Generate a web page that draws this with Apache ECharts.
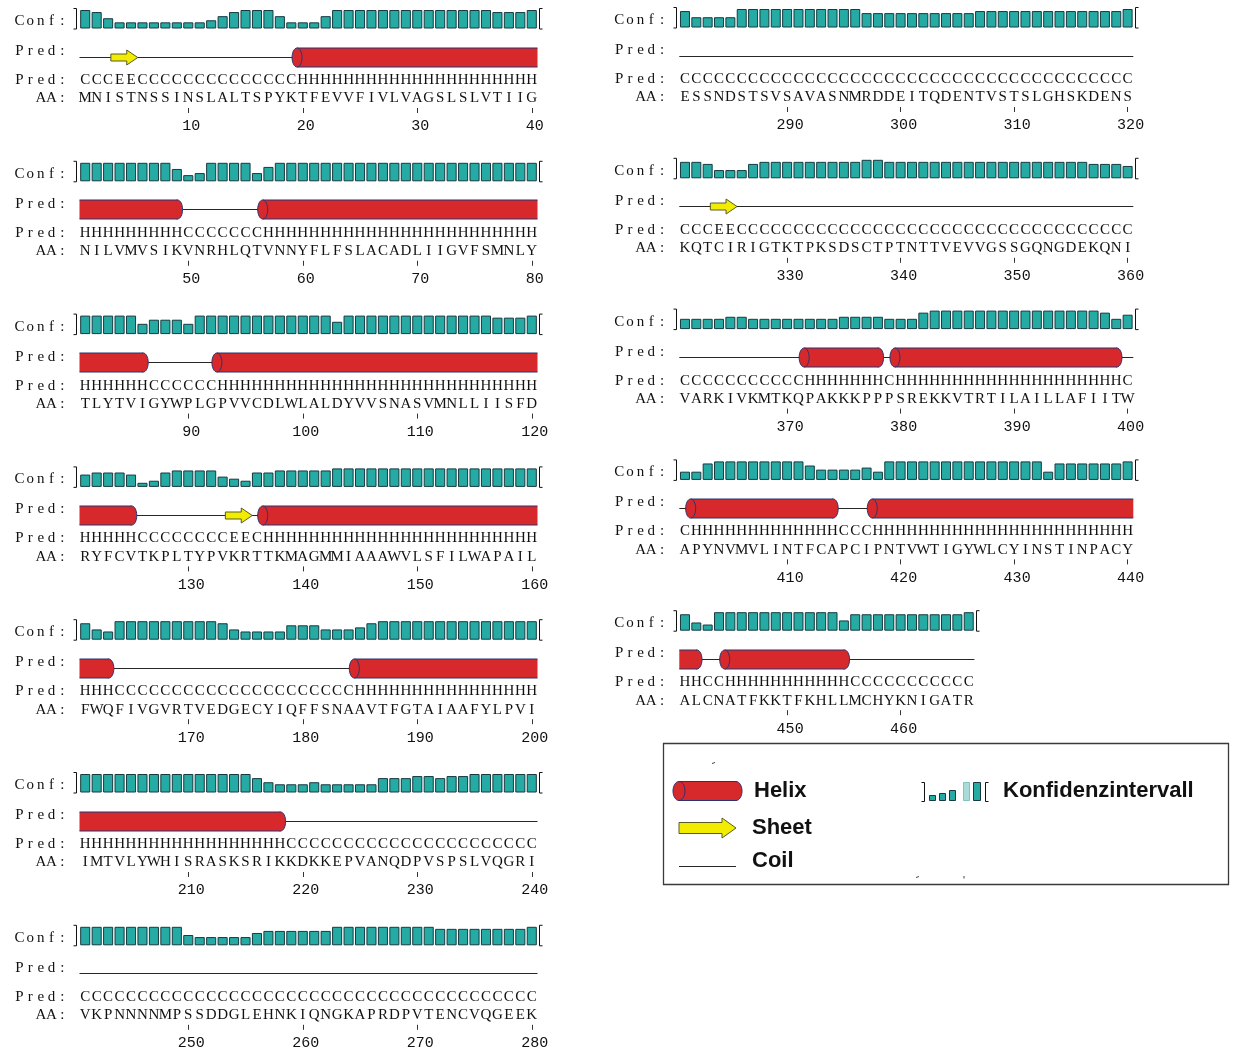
<!DOCTYPE html>
<html>
<head>
<meta charset="utf-8">
<title>PSIPRED Sekundärstrukturvorhersage</title>
<script src="https://cdn.jsdelivr.net/npm/echarts@6/dist/echarts.min.js"></script>
<style>
html, body { margin: 0; padding: 0; background: #ffffff; }
#chart { width: 1234px; height: 1052px; }
</style>
</head>
<body>
<div id="chart"></div>
<script>
// First residue number of each row
const blockFirstResidue = [1, 41, 81, 121, 161, 201, 241, 281, 321, 361, 401, 441];

// Amino-acid sequence, one string per row
const aminoAcids = [
  'MNISTNSSINSLALTSPYKTFEVVFIVLVAGSLSLVTIIG',
  'NILVMVSIKVNRHLQTVNNYFLFSLACADLIIGVFSMNLY',
  'TLYTVIGYWPLGPVVCDLWLALDYVVSNASVMNLLIISFD',
  'RYFCVTKPLTYPVKRTTKMAGMMIAAAWVLSFILWAPAIL',
  'FWQFIVGVRTVEDGECYIQFFSNAAVTFGTAIAAFYLPVI',
  'IMTVLYWHISRASKSRIKKDKKEPVANQDPVSPSLVQGRI',
  'VKPNNNNMPSSDDGLEHNKIQNGKAPRDPVTENCVQGEEK',
  'ESSNDSTSVSAVASNMRDDEITQDENTVSTSLGHSKDENS',
  'KQTCIRIGTKTPKSDSCTPTNTTVEVVGSSGQNGDEKQNI',
  'VARKIVKMTKQPAKKKPPPSREKKVTRTILAILLAFIITW',
  'APYNVMVLINTFCAPCIPNTVWTIGYWLCYINSTINPACY',
  'ALCNATFKKTFKHLLMCHYKNIGATR'
];

// Predicted secondary structure per residue (H = helix, E = strand, C = coil)
const predictedStructure = [
  'CCCEECCCCCCCCCCCCCCHHHHHHHHHHHHHHHHHHHHH',
  'HHHHHHHHHCCCCCCCHHHHHHHHHHHHHHHHHHHHHHHH',
  'HHHHHHCCCCCCHHHHHHHHHHHHHHHHHHHHHHHHHHHH',
  'HHHHHCCCCCCCCEECHHHHHHHHHHHHHHHHHHHHHHHH',
  'HHHCCCCCCCCCCCCCCCCCCCCCHHHHHHHHHHHHHHHH',
  'HHHHHHHHHHHHHHHHHHCCCCCCCCCCCCCCCCCCCCCC',
  'CCCCCCCCCCCCCCCCCCCCCCCCCCCCCCCCCCCCCCCC',
  'CCCCCCCCCCCCCCCCCCCCCCCCCCCCCCCCCCCCCCCC',
  'CCCEECCCCCCCCCCCCCCCCCCCCCCCCCCCCCCCCCCC',
  'CCCCCCCCCCCHHHHHHHCHHHHHHHHHHHHHHHHHHHHC',
  'CHHHHHHHHHHHHHCCCHHHHHHHHHHHHHHHHHHHHHHH',
  'HHCCHHHHHHHHHHHCCCCCCCCCCC'
];

// Confidence of the prediction per residue (0 = low, 9 = high)
const confidence = [
  [9,8,5,3,3,3,3,3,3,3,3,4,6,8,9,9,9,6,3,3,3,6,9,9,9,9,9,9,9,9,9,9,9,9,9,9,8,8,8,9],
  [9,9,9,9,9,9,9,9,6,3,4,9,9,9,9,4,7,9,9,9,9,9,9,9,9,9,9,9,9,9,9,9,9,9,9,9,9,9,9,9],
  [9,9,9,9,9,5,7,7,7,5,9,9,9,9,9,9,9,9,9,9,9,9,6,9,9,9,9,9,9,9,9,9,9,9,9,9,8,8,8,9],
  [6,7,7,7,6,2,3,7,8,8,8,8,5,4,3,7,7,8,8,8,8,8,9,9,9,9,9,9,9,9,9,9,9,9,9,9,9,9,9,9],
  [8,5,4,9,9,9,9,9,9,9,9,9,8,5,4,4,4,4,7,7,7,5,5,5,6,8,9,9,9,9,9,9,9,9,9,9,9,9,9,9],
  [9,9,9,9,9,9,9,9,9,9,9,9,9,9,9,7,5,4,4,4,5,4,4,4,4,4,7,7,7,8,8,7,8,8,9,9,9,9,9,9],
  [9,9,9,9,9,9,9,9,9,5,4,4,4,4,4,6,7,7,7,7,7,7,9,9,9,9,9,9,9,9,9,8,8,8,8,8,8,8,8,9],
  [8,5,5,5,5,9,9,9,9,9,9,9,9,9,9,9,7,7,7,7,7,7,7,7,7,7,8,8,8,8,8,8,8,8,8,8,8,8,8,9],
  [8,8,7,4,4,4,7,8,8,8,8,8,8,8,8,8,9,9,8,8,8,8,8,8,8,8,8,8,8,8,8,8,8,8,8,8,7,7,7,6],
  [5,5,5,5,6,6,5,5,5,5,5,5,5,5,6,6,6,6,5,5,5,8,9,9,9,9,9,9,9,9,9,9,9,9,9,9,9,8,5,7],
  [4,4,8,9,9,9,9,9,9,9,9,7,5,5,5,5,6,4,9,9,9,9,9,9,9,9,9,9,9,9,9,9,4,8,8,8,8,8,8,9],
  [8,4,3,9,9,9,9,9,9,9,9,9,9,9,5,8,8,8,8,8,8,8,8,8,8,9]
];

// ---- appearance ----
const FONT_SEQ = '15px "Liberation Serif", "DejaVu Serif", serif';
const FONT_LEGEND = 'bold 22px "Liberation Sans", Arial, sans-serif';
const COLORS = {
  text: '#111111',
  conf: '#26aba4', confEdge: '#163a40', confPale: '#a9dcd8',
  helix: '#d7282b', helixEdge: '#2b3371',
  sheet: '#f2ec00', sheetEdge: '#5a5a22',
  coil: '#262626', frame: '#3a3a3a'
};

// two columns of rows; each row is one block of residues
const COLUMNS = [
  { left: 79.5, step: 11.45, top: 0, pitch: 152.8 },
  { left: 679.3, step: 11.35, top: -1, pitch: 150.8 }
];
// vertical offsets (px) inside a row
const ROW = { confTop: 10, confHeight: 18.5, confLabel: 21, predLabel: 51, predLine: 56.5, predText: 80, aa: 98.5, axis: 108 };
const HELIX_HALF = 9.5, CAP_RX = 5;
const LABEL_STEP = 10.7;

function blockPlacement(b) {
  const colIdx = b < 7 ? 0 : 1;
  const row = b < 7 ? b : b - 7;
  const col = COLUMNS[colIdx];
  return { left: col.left, top: col.top + row * col.pitch, width: aminoAcids[b].length * col.step };
}

function textEl(ch, x, y, font) {
  return {
    type: 'text',
    style: {
      text: ch, x: x, y: y, font: font || FONT_SEQ, fill: COLORS.text,
      align: 'center', verticalAlign: 'middle', textAlign: 'center', textVerticalAlign: 'middle'
    }
  };
}

// split a row's structure string into runs of equal state
function structureSegments(b) {
  const ss = predictedStructure[b];
  const prevChar = b > 0 ? predictedStructure[b - 1].slice(-1) : 'C';
  const nextChar = b < predictedStructure.length - 1 ? predictedStructure[b + 1][0] : 'C';
  const segs = [];
  let s = 0;
  for (let i = 1; i <= ss.length; i++) {
    if (i === ss.length || ss[i] !== ss[s]) {
      const type = ss[s];
      const before = s === 0 ? prevChar : ss[s - 1];
      const after = i === ss.length ? nextChar : ss[i];
      segs.push({ start: s, end: i - 1, type: type, capStart: before !== type, capEnd: after !== type });
      s = i;
    }
  }
  const order = { C: 0, E: 1, H: 2 };
  return segs.sort(function (a, c) { return order[a.type] - order[c.type]; });
}

function renderRowLabels(api, n) {
  const band = api.size([1, 0])[0];
  const firstX = api.coord([0, 0])[0];
  const lastX = api.coord([n - 1, 0])[0];
  const leftEdge = firstX - band / 2, rightEdge = lastX + band / 2;
  const children = [];
  const colonX = firstX - 23;
  [['Conf:', ROW.confLabel], ['Pred:', ROW.predLabel], ['Pred:', ROW.predText], ['AA:', ROW.aa]].forEach(function (item) {
    const t = item[0];
    const y = api.coord([0, item[1]])[1];
    t.split('').forEach(function (ch, k) {
      children.push(textEl(ch, colonX - (t.length - 1 - k) * LABEL_STEP, y));
    });
  });
  const yt = api.coord([0, ROW.confTop - 1.5])[1];
  const yb = api.coord([0, ROW.confTop + ROW.confHeight + 0.5])[1];
  const bl = Math.round(leftEdge - 3.5) + 0.5, br = Math.round(rightEdge + 1.5) + 0.5;
  children.push({ type: 'polyline', shape: { points: [[bl - 3, yt], [bl, yt], [bl, yb], [bl - 3, yb]] },
    style: { fill: 'none', stroke: COLORS.text, lineWidth: 1 } });
  children.push({ type: 'polyline', shape: { points: [[br + 3, yt], [br, yt], [br, yb], [br + 3, yb]] },
    style: { fill: 'none', stroke: COLORS.text, lineWidth: 1 } });
  return { type: 'group', children: children };
}

// cylinder built from basic shapes (flat or rounded right end, optional front face on the left)
function helixShapes(x0, x1, yc, capStart, capEnd, rx) {
  const top = yc - HELIX_HALF, bot = yc + HELIX_HALF;
  const bodyEnd = capEnd ? x1 - rx : x1;
  const out = [];
  if (capEnd) {
    out.push({ type: 'ellipse', shape: { cx: bodyEnd, cy: yc, rx: rx, ry: HELIX_HALF },
      style: { fill: COLORS.helix, stroke: COLORS.helixEdge, lineWidth: 1 } });
  }
  out.push({ type: 'rect', shape: { x: x0, y: top, width: bodyEnd - x0, height: bot - top },
    style: { fill: COLORS.helix, stroke: null } });
  out.push({ type: 'line', shape: { x1: x0, y1: top, x2: bodyEnd, y2: top }, style: { stroke: COLORS.helixEdge, lineWidth: 1 } });
  out.push({ type: 'line', shape: { x1: x0, y1: bot, x2: bodyEnd, y2: bot }, style: { stroke: COLORS.helixEdge, lineWidth: 1 } });
  if (capStart) {
    out.push({ type: 'ellipse', shape: { cx: x0, cy: yc, rx: rx, ry: HELIX_HALF },
      style: { fill: COLORS.helix, stroke: COLORS.helixEdge, lineWidth: 1 } });
  }
  return out;
}

function arrowShape(x0, x1, yc, shaft, head, headLen) {
  return {
    type: 'polygon',
    shape: { points: [[x0, yc - shaft], [x1 - headLen, yc - shaft], [x1 - headLen, yc - head], [x1, yc],
      [x1 - headLen, yc + head], [x1 - headLen, yc + shaft], [x0, yc + shaft]] },
    style: { fill: COLORS.sheet, stroke: COLORS.sheetEdge, lineWidth: 1 }
  };
}

function renderSegment(s, api) {
  const band = api.size([1, 0])[0];
  const x0 = api.coord([s.start, 0])[0] - band / 2;
  const x1 = api.coord([s.end, 0])[0] + band / 2;
  const yc = Math.round(api.coord([0, ROW.predLine])[1]) + 0.5;
  if (s.type === 'C') {
    return { type: 'line', shape: { x1: x0, y1: yc, x2: x1, y2: yc }, style: { stroke: COLORS.coil, lineWidth: 1 } };
  }
  if (s.type === 'E') {
    return { type: 'group', children: [
      { type: 'line', shape: { x1: x0, y1: yc, x2: x1, y2: yc }, style: { stroke: COLORS.coil, lineWidth: 1 } },
      arrowShape(x0 - 3, x1 + 1, yc, 3.5, 7.5, 11)
    ] };
  }
  return { type: 'group', children: helixShapes(x0, x1, yc, s.capStart, s.capEnd, CAP_RX) };
}

function renderResidue(b, i, api) {
  const x = api.coord([i, 0])[0];
  return { type: 'group', children: [
    textEl(predictedStructure[b][i], x, api.coord([0, ROW.predText])[1]),
    textEl(aminoAcids[b][i], x, api.coord([0, ROW.aa])[1])
  ] };
}

const tickEvery10 = function (idx, value) { return Number(value) % 10 === 0; };

const grid = [], xAxis = [], yAxis = [], series = [];
aminoAcids.forEach(function (seq, b) {
  const p = blockPlacement(b);
  const numbers = seq.split('').map(function (_, i) { return String(blockFirstResidue[b] + i); });

  // confidence bars
  const gConf = grid.length;
  grid.push({ left: p.left, top: p.top + ROW.confTop, width: p.width, height: ROW.confHeight, outerBoundsMode: 'none' });
  xAxis.push({ type: 'category', gridIndex: gConf, data: numbers, show: false });
  yAxis.push({ type: 'value', gridIndex: gConf, min: 0, max: 9, show: false });
  series.push({
    type: 'bar', xAxisIndex: gConf, yAxisIndex: gConf, data: confidence[b],
    barCategoryGap: '12%', silent: true,
    itemStyle: { color: COLORS.conf, borderColor: COLORS.confEdge, borderWidth: 1 }
  });

  // structure diagram, letters and residue numbers
  const gMain = grid.length;
  grid.push({ left: p.left, top: p.top, width: p.width, height: ROW.axis, outerBoundsMode: 'none' });
  xAxis.push({
    type: 'category', gridIndex: gMain, data: numbers, position: 'bottom',
    axisLine: { show: false, onZero: false }, splitLine: { show: false },
    axisTick: { show: true, alignWithLabel: true, interval: tickEvery10, length: 5, lineStyle: { color: '#333', width: 1 } },
    axisLabel: { show: true, interval: tickEvery10, margin: 11, fontFamily: '"Liberation Mono", monospace', fontSize: 15, color: COLORS.text, padding: [0, 0, 0, 6] }
  });
  yAxis.push({ type: 'value', gridIndex: gMain, min: 0, max: ROW.axis, inverse: true, show: false });

  series.push({
    type: 'custom', xAxisIndex: gMain, yAxisIndex: gMain, clip: false, silent: true,
    data: [[0, 0]],
    renderItem: function (params, api) { return renderRowLabels(api, seq.length); }
  });

  const segs = structureSegments(b);
  series.push({
    type: 'custom', xAxisIndex: gMain, yAxisIndex: gMain, clip: false, silent: true,
    data: segs.map(function (s) { return [s.start, 0]; }),
    renderItem: function (params, api) { return renderSegment(segs[params.dataIndex], api); }
  });

  series.push({
    type: 'custom', xAxisIndex: gMain, yAxisIndex: gMain, clip: false, silent: true,
    data: seq.split('').map(function (_, i) { return [i, 0]; }),
    renderItem: function (params, api) { return renderResidue(b, params.dataIndex, api); }
  });
});

// legend box
function legendText(t, x, y) {
  return { type: 'text', x: x, y: y, silent: true, z: 2,
    style: { text: t, font: FONT_LEGEND, fill: '#111', align: 'left', verticalAlign: 'middle', textAlign: 'left', textVerticalAlign: 'middle' } };
}
function onTop(list) { return list.map(function (e) { e.z = 2; return e; }); }
const legendConfBars = [[929.5, 5], [939.5, 7], [949.5, 10]].map(function (d) {
  return { type: 'rect', shape: { x: d[0], y: 800.5 - d[1], width: 6, height: d[1] },
    style: { fill: COLORS.conf, stroke: COLORS.confEdge, lineWidth: 1 } };
});
const graphic = [
  { type: 'rect', shape: { x: 663.5, y: 743.5, width: 565, height: 141 }, style: { fill: 'none', stroke: COLORS.frame, lineWidth: 1.3 }, z: 1 }
].concat(onTop(helixShapes(679, 742, 791, true, true, 6)), [
  legendText('Helix', 754, 791),
  Object.assign(arrowShape(679, 736, 828, 5.5, 10, 14), { z: 2 }),
  legendText('Sheet', 752, 828),
  { type: 'line', z: 2, shape: { x1: 679, y1: 866.5, x2: 736, y2: 866.5 }, style: { stroke: COLORS.coil, lineWidth: 1.2 } },
  legendText('Coil', 752, 861)
], onTop(legendConfBars.concat([
  { type: 'polyline', shape: { points: [[921.5, 782.5], [924.5, 782.5], [924.5, 801.5], [921.5, 801.5]] }, style: { fill: 'none', stroke: COLORS.text, lineWidth: 1 } },
  { type: 'rect', shape: { x: 963.5, y: 782.5, width: 6, height: 18 }, style: { fill: COLORS.confPale, stroke: '#7fc4bf', lineWidth: 1 } },
  { type: 'rect', shape: { x: 973.5, y: 782.5, width: 7, height: 18 }, style: { fill: COLORS.conf, stroke: COLORS.confEdge, lineWidth: 1 } },
  { type: 'polyline', shape: { points: [[988.5, 782.5], [985.5, 782.5], [985.5, 801.5], [988.5, 801.5]] }, style: { fill: 'none', stroke: COLORS.text, lineWidth: 1 } }
])), [
  legendText('Konfidenzintervall', 1003, 791),
  { type: 'line', z: 2, shape: { x1: 712, y1: 763.5, x2: 715, y2: 762.5 }, style: { stroke: '#444', lineWidth: 1 } },
  { type: 'line', z: 2, shape: { x1: 916, y1: 877.5, x2: 919, y2: 876.5 }, style: { stroke: '#444', lineWidth: 1 } },
  { type: 'line', z: 2, shape: { x1: 964, y1: 876, x2: 964, y2: 878.5 }, style: { stroke: '#444', lineWidth: 1 } }
]);

const chart = echarts.init(document.getElementById('chart'), null, { renderer: 'canvas' });
chart.setOption({
  backgroundColor: '#ffffff',
  animation: false,
  tooltip: { show: false },
  grid: grid,
  xAxis: xAxis,
  yAxis: yAxis,
  series: series,
  graphic: graphic
});
</script>
</body>
</html>
